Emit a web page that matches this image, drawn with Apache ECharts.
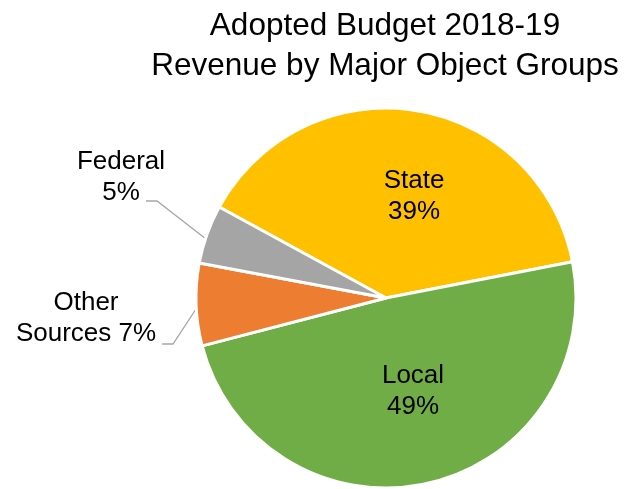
<!DOCTYPE html>
<html><head><meta charset="utf-8">
<script src="https://cdn.jsdelivr.net/npm/echarts@6/dist/echarts.min.js"></script>
<style>html,body{margin:0;padding:0;background:#fff}#c{width:626px;height:489px}</style>
</head><body><div id="c"></div>
<script>
var categories = ['State', 'Local', 'Other Sources', 'Federal'];
var values = [39, 49, 7, 5];
var colors = ['#FFC000', '#70AD47', '#ED7D31', '#A5A5A5'];
var labelTexts = ['State\n39%', 'Local\n49%', 'Other\nSources 7%', 'Federal\n5%'];

var chart = echarts.init(document.getElementById('c'));
var F = 'Liberation Sans, Arial, sans-serif';
// label placement (layout only)
var labelPos = [
  {x: 414, y: 196},
  {x: 413, y: 391},
  {x: 86, y: 318},
  {x: 121, y: 177}
];
var linePts = [null, null,
  [[196, 309], [173, 344], [162, 344]],
  [[206, 239], [157, 201], [146, 201]]
];
chart.setOption({
  animation: false,
  title: {
    text: 'Adopted Budget 2018-19\nRevenue by Major Object Groups',
    left: 380, top: 1, textAlign: 'center',
    textStyle: {fontFamily: F, fontSize: 31.5, fontWeight: 'normal', color: '#000', lineHeight: 40}
  },
  series: [{
    type: 'pie',
    center: [386, 298],
    radius: 190,
    startAngle: 151.4,
    clockwise: true,
    itemStyle: {borderColor: '#fff', borderWidth: 3},
    label: {
      show: true, overflow: 'none', edgeDistance: 0, bleedMargin: 0,
      fontFamily: F, fontSize: 26, color: '#000', lineHeight: 31, align: 'center',
      formatter: function (p) { return labelTexts[p.dataIndex]; }
    },
    labelLine: {show: true, lineStyle: {color: '#A6A6A6', width: 1.3}},
    labelLayout: function (p) {
      var lp = labelPos[p.dataIndex];
      var o = {x: lp.x, y: lp.y, align: 'center', verticalAlign: 'middle', width: 200};
      if (linePts[p.dataIndex]) o.labelLinePoints = linePts[p.dataIndex];
      return o;
    },
    data: categories.map(function (c, i) {
      var d = {name: c, value: values[i], itemStyle: {color: colors[i]}};
      if (i < 2) d.labelLine = {show: false};
      return d;
    })
  }]
});
</script></body></html>
